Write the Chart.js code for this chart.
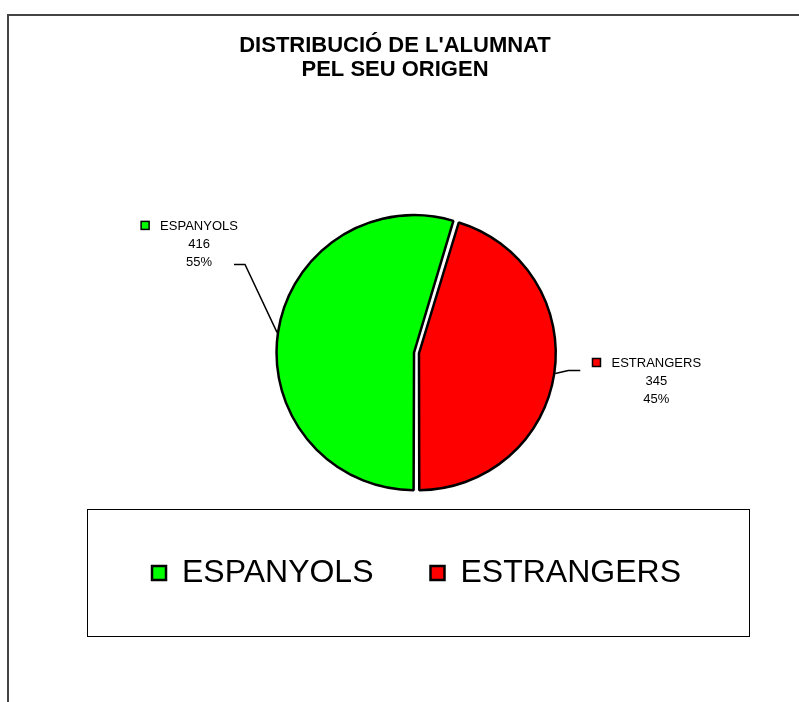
<!DOCTYPE html>
<html lang="ca">
<head>
<meta charset="UTF-8">
<title>Distribució de l'alumnat pel seu origen</title>
<script src="https://cdn.jsdelivr.net/npm/chart.js"></script>
<style>
  body { margin: 0; background: #fff; }
</style>
</head>
<body>
<canvas id="origenChart" width="799" height="702"></canvas>
<script>
const categories = ['ESPANYOLS', 'ESTRANGERS'];
const alumnes = [416, 345];
const colors = ['#00ff00', '#ff0000'];
const titleLines = ["DISTRIBUCIÓ DE L'ALUMNAT", 'PEL SEU ORIGEN'];

const FONT = '"Liberation Sans", Arial, sans-serif';

// frame, title and the box round the legend
const framePlugin = {
    id: 'frame',
    beforeDraw(chart) {
        const ctx = chart.ctx;
        ctx.save();
        ctx.fillStyle = '#fff';
        ctx.fillRect(0, 0, chart.width, chart.height);
        ctx.strokeStyle = '#444';
        ctx.lineWidth = 2;
        ctx.beginPath();
        ctx.moveTo(8, chart.height);
        ctx.lineTo(8, 15);
        ctx.lineTo(chart.width, 15);
        ctx.stroke();

        ctx.strokeStyle = '#000';
        ctx.lineWidth = 1;
        ctx.strokeRect(87.5, 509.5, 662, 127);

        ctx.fillStyle = '#000';
        ctx.font = 'bold 22px ' + FONT;
        ctx.textAlign = 'center';
        ctx.textBaseline = 'middle';
        titleLines.forEach((t, i) => ctx.fillText(t, 395, 46 + i * 24));
        ctx.restore();
    }
};

// Excel style data labels with leader lines
const labelPlacement = [
    { tx: -78, ty: -106, bx: -32, by: -68, lx: -43, ly: -68 },
    { tx: 101, ty: -10, bx: 13, by: -3, lx: 25, ly: -3 }
];

const sliceLabels = {
    id: 'sliceLabels',
    afterDatasetsDraw(chart) {
        const ctx = chart.ctx;
        const meta = chart.getDatasetMeta(0);
        const total = alumnes.reduce((a, b) => a + b, 0);
        ctx.save();
        meta.data.forEach((arc, i) => {
            const p = arc.getProps(['x', 'y', 'startAngle', 'endAngle', 'outerRadius', 'circumference'], true);
            const mid = (p.startAngle + p.endAngle) / 2;
            const fix = 1 - Math.sin(Math.min(Math.PI, p.circumference));
            const shift = (arc.options.offset / 4) * (1 + fix);
            const r = shift + p.outerRadius + 1;
            const ex = p.x + Math.cos(mid) * r;
            const ey = p.y + Math.sin(mid) * r;
            const pl = labelPlacement[i];

            ctx.strokeStyle = '#000';
            ctx.lineWidth = 1.5;
            ctx.beginPath();
            ctx.moveTo(ex, ey);
            ctx.lineTo(ex + pl.bx, ey + pl.by);
            ctx.lineTo(ex + pl.lx, ey + pl.ly);
            ctx.stroke();

            const cx = ex + pl.tx;
            const cy = ey + pl.ty;
            ctx.font = '13px ' + FONT;
            ctx.fillStyle = '#000';
            ctx.textAlign = 'center';
            ctx.textBaseline = 'middle';
            const lines = [categories[i], String(alumnes[i]), Math.round(alumnes[i] / total * 100) + '%'];
            lines.forEach((t, j) => ctx.fillText(t, cx, cy + j * 18));

            const w = ctx.measureText(categories[i]).width;
            const sx = cx - w / 2 - 19;
            ctx.fillStyle = colors[i];
            ctx.fillRect(sx, cy - 5, 8, 8);
            ctx.lineWidth = 1.5;
            ctx.strokeRect(sx, cy - 5, 8, 8);
        });
        ctx.restore();
    }
};

new Chart(document.getElementById('origenChart'), {
    type: 'pie',
    data: {
        labels: categories,
        datasets: [{
            data: alumnes,
            backgroundColor: colors,
            borderColor: '#000',
            borderWidth: 2.5,
            offset: 10
        }]
    },
    options: {
        responsive: false,
        animation: false,
        devicePixelRatio: 1,
        rotation: 180,
        radius: 135,
        layout: { padding: { left: 85, right: 51, top: 206, bottom: 103 } },
        plugins: {
            title: { display: false },
            tooltip: { enabled: false },
            legend: {
                position: 'bottom',
                labels: {
                    color: '#000',
                    font: { family: FONT, size: 32 },
                    boxWidth: 14,
                    boxHeight: 14,
                    padding: 57
                }
            }
        }
    },
    plugins: [framePlugin, sliceLabels]
});
</script>
</body>
</html>
